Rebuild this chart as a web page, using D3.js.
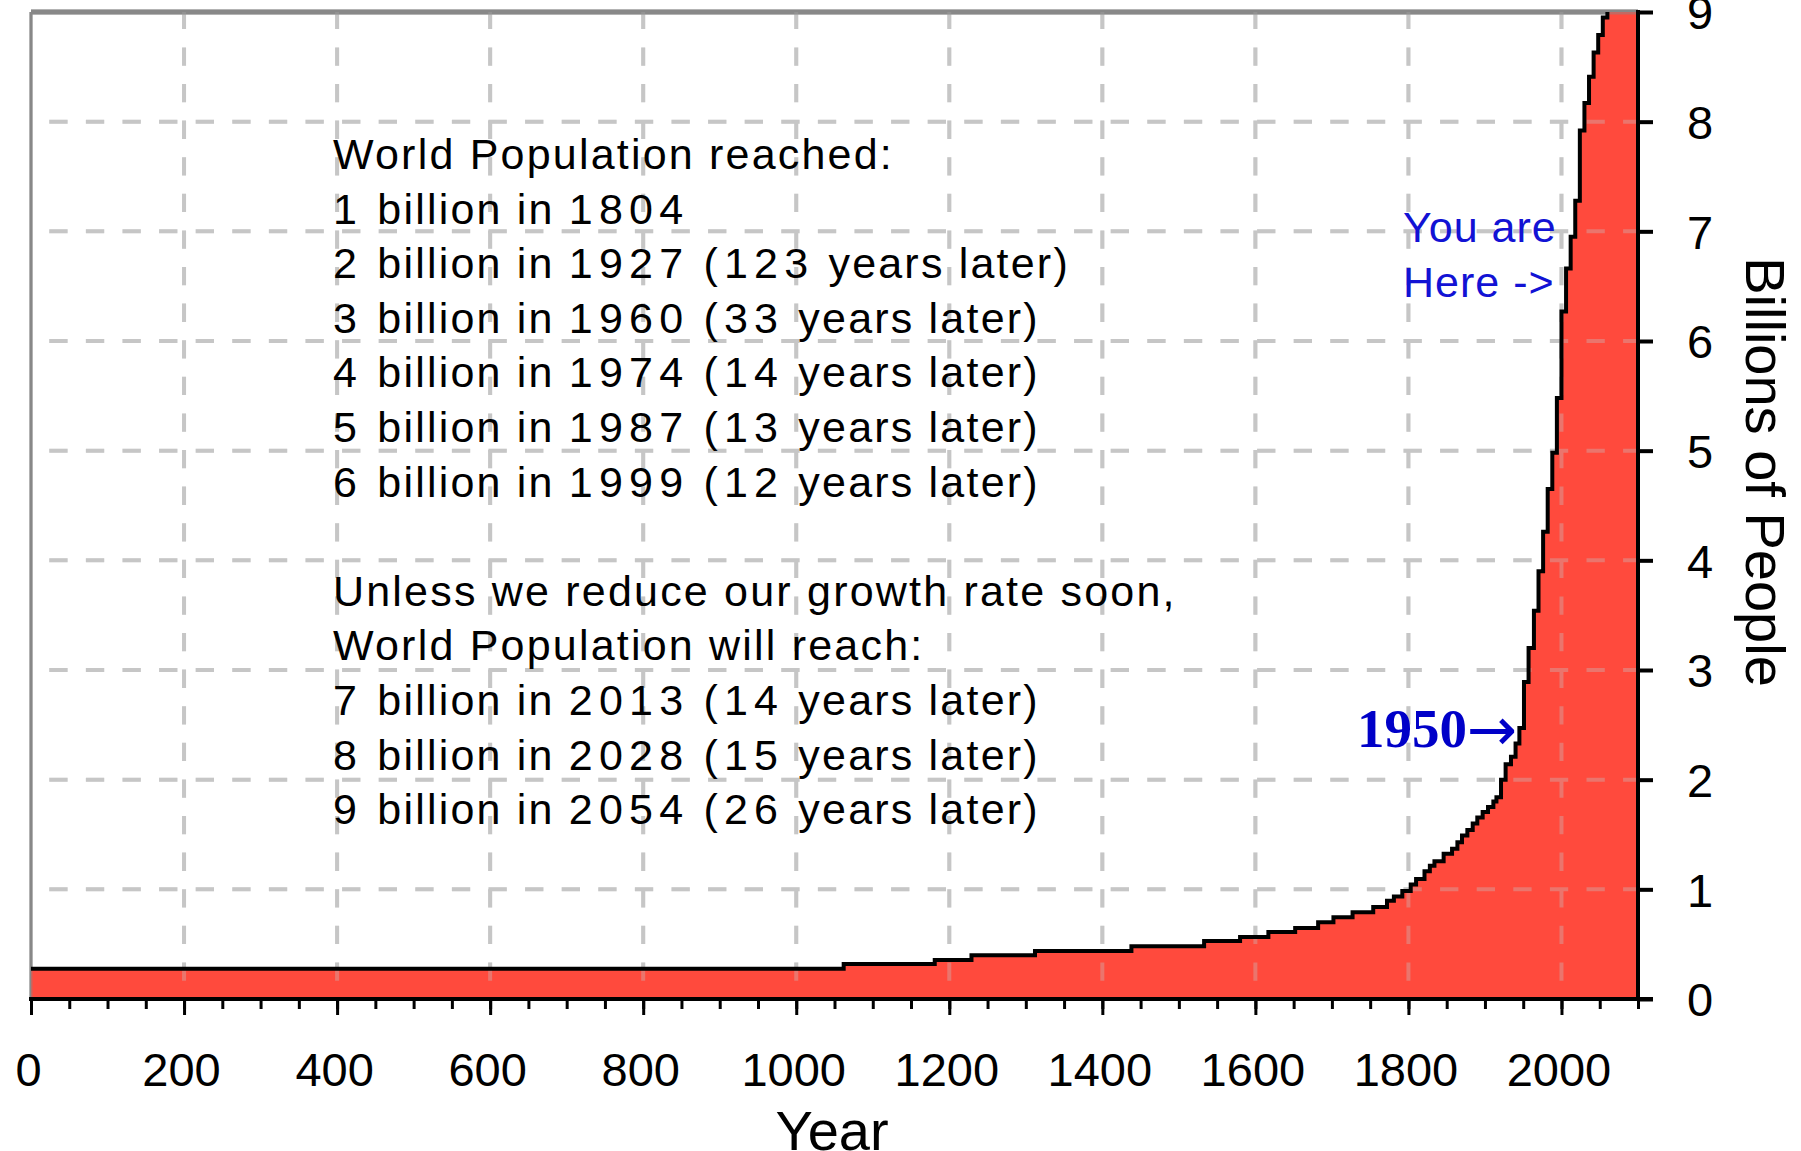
<!DOCTYPE html>
<html>

<head>
    <script src="https://cdnjs.cloudflare.com/ajax/libs/d3/7.8.5/d3.min.js"></script>
    <style>
        body {
            margin: 0;
            background: #ffffff;
        }

        svg {
            display: block;
        }

        .lbl {
            font-family: "Liberation Sans", Arial, sans-serif;
            fill: #000;
        }

        .note {
            font-family: "Liberation Sans", Arial, sans-serif;
            font-size: 43px;
            letter-spacing: 2.2px;
            fill: #000;
        }

        .note .num {
            letter-spacing: 6.2px;
        }
    </style>
</head>

<body>
    <div id="chart"></div>

    <script>
        // population in billions
        var years = [0, 1062, 1181, 1229, 1312, 1438, 1533, 1580, 1617, 1652, 1682, 1702, 1727, 1754, 1772, 1781,
            1792, 1803, 1810, 1821, 1828, 1834, 1846, 1857, 1864, 1870, 1877, 1884, 1890, 1897, 1904, 1911,
            1915, 1921, 1927, 1934, 1940, 1945, 1951, 1957, 1964, 1970, 1976, 1982, 1988, 1994, 2000, 2006,
            2012, 2018, 2024, 2030, 2036, 2042, 2048, 2054, 2060
        ];
        var billions = [0.275, 0.32, 0.356, 0.40, 0.438, 0.48, 0.53, 0.565, 0.61, 0.647, 0.70, 0.745, 0.79, 0.84, 0.895, 0.935,
            0.985, 1.045, 1.095, 1.165, 1.215, 1.255, 1.325, 1.37, 1.43, 1.49, 1.54, 1.60, 1.655, 1.705, 1.75, 1.80,
            1.84, 2.0, 2.14, 2.21, 2.33, 2.47, 2.89, 3.2, 3.54, 3.9, 4.26, 4.65, 4.98, 5.48, 6.27, 6.66,
            6.95, 7.28, 7.92, 8.17, 8.41, 8.63, 8.79, 8.95, 9.2
        ];

        var xMajorTicks = [0, 200, 400, 600, 800, 1000, 1200, 1400, 1600, 1800, 2000];
        var xMinorTicks = d3.range(0, 2101, 50);
        var yTicks = [0, 1, 2, 3, 4, 5, 6, 7, 8, 9];

        var noteLines = [
            "World Population reached:",
            "1 billion in 1804",
            "2 billion in 1927 (123 years later)",
            "3 billion in 1960 (33 years later)",
            "4 billion in 1974 (14 years later)",
            "5 billion in 1987 (13 years later)",
            "6 billion in 1999 (12 years later)",
            "",
            "Unless we reduce our growth rate soon,",
            "World Population will reach:",
            "7 billion in 2013 (14 years later)",
            "8 billion in 2028 (15 years later)",
            "9 billion in 2054 (26 years later)"
        ];

        var width = 1801,
            height = 1151;

        var x = d3.scaleLinear().domain([0, 2100]).range([31, 1638]);
        var y = d3.scaleLinear().domain([0, 9]).range([999, 12]);

        var data = years.map(function(d, i) {
            return { year: d, value: billions[i] };
        });
        // carry the last step to the end of the axis
        data.push({ year: 2100, value: billions[billions.length - 1] });

        var svg = d3.select("#chart")
            .append("svg")
            .attr("width", width)
            .attr("height", height);

        svg.append("rect")
            .attr("width", width)
            .attr("height", height)
            .attr("fill", "#fff");

        svg.append("defs").append("clipPath")
            .attr("id", "plot")
            .append("rect")
            .attr("x", x(0))
            .attr("y", y(9))
            .attr("width", x(2100) - x(0))
            .attr("height", y(0) - y(9));

        var gridX = d3.range(200, 2001, 200);
        var gridY = d3.range(1, 9);

        function drawGrid(g) {
            g.selectAll(".gv")
                .data(gridX)
                .enter().append("line")
                .attr("x1", function(d) { return x(d); })
                .attr("x2", function(d) { return x(d); })
                .attr("y1", y(0))
                .attr("y2", y(9));

            g.selectAll(".gh")
                .data(gridY)
                .enter().append("line")
                .attr("x1", x(0))
                .attr("x2", x(2100))
                .attr("y1", function(d) { return y(d); })
                .attr("y2", function(d) { return y(d); });

            g.selectAll("line")
                .attr("stroke", "#c6c6c6")
                .attr("stroke-width", 4)
                .attr("stroke-dasharray", "18.3,18.3")
                .attr("stroke-dashoffset", 18.3);
        }

        // grid under the fill
        svg.append("g").call(drawGrid);

        function drawFrame(g) {
            g.append("line")
                .attr("x1", x(0)).attr("x2", x(0))
                .attr("y1", y(9)).attr("y2", y(0))
                .attr("stroke", "#888").attr("stroke-width", 3);
            g.append("line")
                .attr("x1", x(0)).attr("x2", x(2100))
                .attr("y1", y(9)).attr("y2", y(9))
                .attr("stroke", "#888").attr("stroke-width", 5);
        }

        svg.append("g").call(drawFrame);

        var area = d3.area()
            .curve(d3.curveStepAfter)
            .x(function(d) { return x(d.year); })
            .y0(y(0))
            .y1(function(d) { return y(d.value); });

        var line = d3.line()
            .curve(d3.curveStepAfter)
            .x(function(d) { return x(d.year); })
            .y(function(d) { return y(d.value); });

        var plot = svg.append("g").attr("clip-path", "url(#plot)");

        plot.append("path")
            .datum(data)
            .attr("d", area)
            .attr("fill", "#ff4a3d");

        // grid and frame showing through the fill
        svg.append("g")
            .attr("opacity", 0.35)
            .call(drawGrid);

        svg.append("g")
            .attr("opacity", 0.5)
            .call(drawFrame);

        var outline = svg.append("g").attr("clip-path", "url(#plot)");
        outline.append("path")
            .datum(data)
            .attr("d", line)
            .attr("fill", "none")
            .attr("stroke", "#000")
            .attr("stroke-width", 4);

        // axes
        var xAxisMinor = d3.axisBottom(x)
            .tickValues(xMinorTicks)
            .tickSize(10)
            .tickFormat("");

        var xAxis = d3.axisBottom(x)
            .tickValues(xMajorTicks)
            .tickSize(16)
            .tickFormat(d3.format("d"));

        var gxm = svg.append("g")
            .attr("transform", "translate(0," + y(0) + ")")
            .call(xAxisMinor);
        gxm.select(".domain").remove();
        gxm.selectAll("line").attr("stroke", "#000").attr("stroke-width", 3);

        var gx = svg.append("g")
            .attr("transform", "translate(0," + y(0) + ")")
            .call(xAxis);
        gx.select(".domain").remove();
        gx.selectAll("line").attr("stroke", "#000").attr("stroke-width", 3);
        gx.selectAll("text")
            .attr("class", "lbl")
            .attr("y", 87)
            .attr("dy", null)
            .attr("dx", -3)
            .style("font-size", "47px")
            .attr("fill", "#000");

        var yAxis = d3.axisRight(y)
            .tickValues(yTicks)
            .tickSize(15)
            .tickFormat(d3.format("d"));

        var gy = svg.append("g")
            .attr("transform", "translate(" + x(2100) + ",0)")
            .call(yAxis);
        gy.select(".domain").remove();
        gy.selectAll("line").attr("stroke", "#000").attr("stroke-width", 4);
        gy.selectAll("text")
            .attr("class", "lbl")
            .attr("x", 49)
            .attr("dy", "0.36em")
            .attr("text-anchor", "start")
            .style("font-size", "47px");

        // bottom axis line and right axis line
        svg.append("line")
            .attr("x1", x(0) - 2).attr("x2", x(2100) + 15)
            .attr("y1", y(0)).attr("y2", y(0))
            .attr("stroke", "#000").attr("stroke-width", 4);
        svg.append("line")
            .attr("x1", x(2100)).attr("x2", x(2100))
            .attr("y1", y(9) - 2).attr("y2", y(0))
            .attr("stroke", "#000").attr("stroke-width", 4);

        // axis titles
        svg.append("text")
            .attr("class", "lbl")
            .attr("x", 832)
            .attr("y", 1150)
            .attr("text-anchor", "middle")
            .style("font-size", "56px")
            .text("Year");

        svg.append("text")
            .attr("class", "lbl")
            .attr("transform", "translate(1746,472) rotate(90)")
            .attr("text-anchor", "middle")
            .style("font-size", "56px")
            .text("Billions of People");

        // milestone notes; digits and brackets sit a little wider in the original font
        var notes = svg.append("g")
            .selectAll("text")
            .data(noteLines)
            .enter().append("text")
            .attr("class", "note")
            .attr("x", 333)
            .attr("y", function(d, i) { return 169 + i * 54.6; });

        notes.selectAll("tspan")
            .data(function(d) {
                return d.split(/([0-9()]+)/).filter(function(s) { return s.length; });
            })
            .enter().append("tspan")
            .attr("class", function(s) { return /[0-9()]/.test(s) ? "num" : null; })
            .text(function(s) { return s; });

        svg.append("text")
            .attr("class", "note")
            .attr("x", 1403)
            .attr("y", 242)
            .style("fill", "#1212d4")
            .style("letter-spacing", "1px")
            .text("You are");

        svg.append("text")
            .attr("class", "note")
            .attr("x", 1403)
            .attr("y", 297)
            .style("fill", "#1212d4")
            .style("letter-spacing", "1px")
            .text("Here ->");

        var mark = svg.append("text")
            .attr("x", 1357)
            .attr("y", 747)
            .attr("font-family", "'Liberation Serif', 'Times New Roman', serif")
            .attr("font-weight", "bold")
            .attr("font-size", 55)
            .attr("fill", "#0000c8");
        mark.append("tspan").text("1950");
        mark.append("tspan")
            .attr("font-family", "'DejaVu Sans', sans-serif")
            .attr("font-weight", "normal")
            .attr("font-size", 60)
            .attr("dy", 3)
            .text("\u2192");
    </script>

</body>

</html>
